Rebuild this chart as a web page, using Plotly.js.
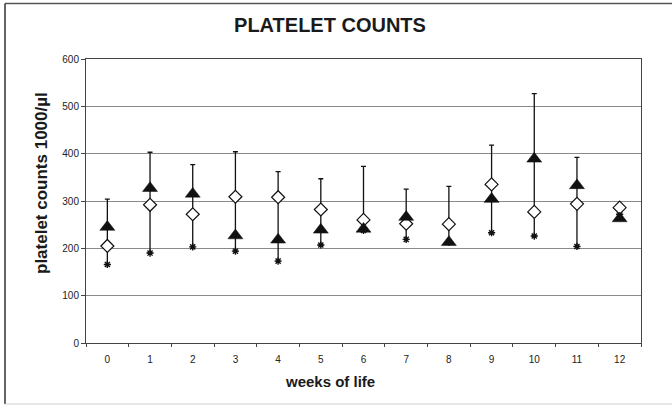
<!DOCTYPE html>
<html>
<head>
<meta charset="utf-8">
<script src="https://cdn.plot.ly/plotly-3.0.1.min.js"></script>
<style>html,body{margin:0;padding:0;background:#fff;}#chart{width:672px;height:405px;}</style>
</head>
<body>
<div id="chart"></div>
<script>
// weeks of life
const weeks = [0, 1, 2, 3, 4, 5, 6, 7, 8, 9, 10, 11, 12];
// filled triangle series
const triangleVals = [245, 327, 315, 227, 218, 239, 241, 266, 213, 304, 389, 333, 263];
// open diamond series
const diamondVals = [205, 292, 272, 309, 308, 282, 260, 252, 251, 335, 277, 294, 286];
// lower value (asterisk)
const minVals = [166, 190, 203, 194, 173, 207, 238, 219, 213, 233, 226, 204, 272];
// upper value (cap of the range line)
const maxVals = [304, 403, 377, 404, 362, 347, 373, 325, 331, 418, 527, 392, null];
const yTicks = [0, 100, 200, 300, 400, 500, 600];

const rangeDown = maxVals.map((m, i) => (m === null ? null : m - minVals[i]));
const zeros = maxVals.map(m => (m === null ? null : 0));
const boundaries = weeks.map(w => w - 0.5).concat([weeks[weeks.length - 1] + 0.5]);

const FONT = '"Liberation Sans", Arial, Helvetica, sans-serif';

const traces = [
  {
    type: 'scatter', mode: 'markers', x: weeks, y: maxVals,
    marker: {size: 1, color: 'rgba(0,0,0,0)'},
    error_y: {type: 'data', symmetric: false, array: zeros, arrayminus: rangeDown,
              color: '#111', thickness: 1.3, width: 2.5},
    hoverinfo: 'skip'
  },
  {
    type: 'scatter', mode: 'markers', x: weeks, y: minVals,
    marker: {symbol: 'asterisk-open', size: 6, color: '#111', line: {color: '#111', width: 1.4}}
  },
  {
    type: 'scatter', mode: 'markers', x: weeks, y: diamondVals,
    marker: {symbol: 'diamond', size: 10, color: '#fff', line: {color: '#111', width: 1.2}}
  },
  {
    type: 'scatter', mode: 'markers', x: weeks, y: triangleVals,
    marker: {symbol: 'triangle-up', size: 13, color: '#111', line: {color: '#111', width: 0.5}}
  }
];

const layout = {
  width: 672, height: 405,
  margin: {l: 86, r: 31, t: 59, b: 62, pad: 0},
  paper_bgcolor: '#fff', plot_bgcolor: '#fff',
  showlegend: false,
  font: {family: FONT, color: '#222', size: 10},
  title: {
    text: '<b>PLATELET COUNTS</b>',
    font: {family: FONT, size: 20, color: '#1a1a1a'},
    x: 330 / 672, xref: 'container', xanchor: 'center',
    y: 1 - 25 / 405, yref: 'container', yanchor: 'middle'
  },
  xaxis: {
    type: 'linear', range: [-0.5, 12.5],
    tickmode: 'array', tickvals: weeks, ticktext: weeks.map(String),
    ticks: '', ticklabelstandoff: 7,
    minor: {tickmode: 'array', tickvals: boundaries, ticks: 'outside', ticklen: 3, tickcolor: '#444', showgrid: false},
    showgrid: false, zeroline: false,
    showline: true, mirror: true, linecolor: '#444', linewidth: 1,
    tickfont: {family: FONT, size: 10, color: '#222'},
    fixedrange: true
  },
  yaxis: {
    range: [0, 600], tickmode: 'array', tickvals: yTicks, ticktext: yTicks.map(String),
    ticks: 'outside', ticklen: 4, tickcolor: '#444',
    showgrid: true, gridcolor: '#8a8a8a', gridwidth: 1,
    zeroline: false, showline: true, mirror: true, linecolor: '#444', linewidth: 1,
    tickfont: {family: FONT, size: 10, color: '#222'},
    fixedrange: true
  },
  annotations: [
    {
      text: '<b>weeks of life</b>', showarrow: false,
      xref: 'paper', yref: 'paper', x: (330 - 86) / 555, y: (343 - 381) / 284,
      xanchor: 'center', yanchor: 'middle',
      font: {family: FONT, size: 15, color: '#1a1a1a'}
    },
    {
      text: '<b>platelet counts 1000/µl</b>', showarrow: false, textangle: -90,
      xref: 'paper', yref: 'paper', x: (41 - 86) / 555, y: (343 - 183) / 284,
      xanchor: 'center', yanchor: 'middle',
      font: {family: FONT, size: 17, color: '#1a1a1a'}
    }
  ],
  shapes: [
    {type: 'line', xref: 'paper', yref: 'paper', x0: (5 - 86) / 555, x1: (672 - 86) / 555,
     y0: (343 - 3.5) / 284, y1: (343 - 3.5) / 284, line: {color: '#555', width: 1.5}},
    {type: 'line', xref: 'paper', yref: 'paper', x0: (5 - 86) / 555, x1: (5 - 86) / 555,
     y0: (343 - 3.5) / 284, y1: (343 - 404) / 284, line: {color: '#333', width: 1.5}},
    {type: 'line', xref: 'paper', yref: 'paper', x0: (5 - 86) / 555, x1: (672 - 86) / 555,
     y0: (343 - 404) / 284, y1: (343 - 404) / 284, line: {color: '#cfcfcf', width: 1.2}}
  ]
};

Plotly.newPlot('chart', traces, layout, {displayModeBar: false, staticPlot: true});
</script>
</body>
</html>
